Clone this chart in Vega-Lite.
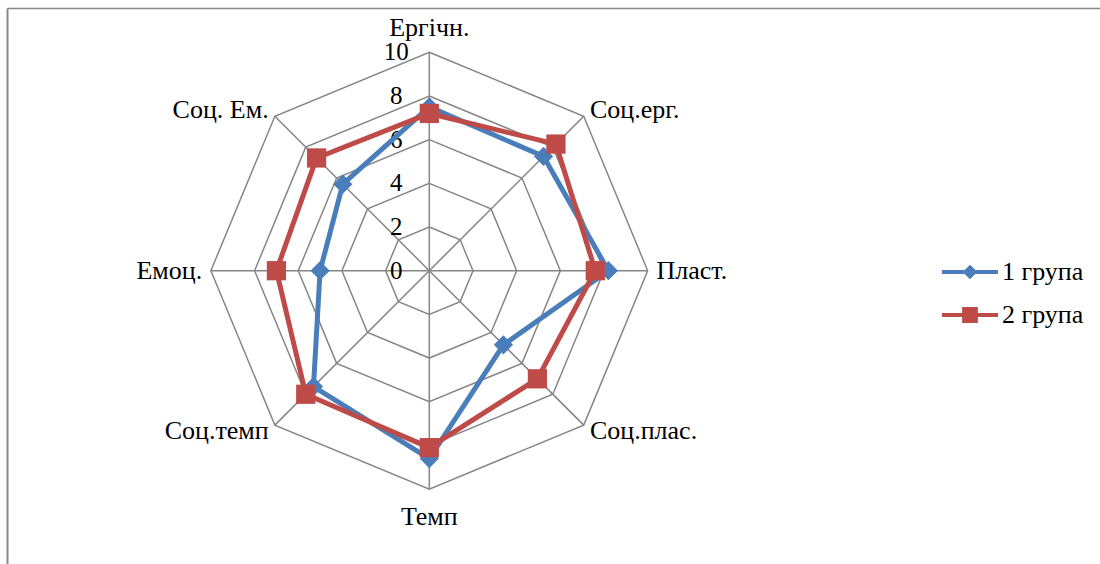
{
  "$schema": "https://vega.github.io/schema/vega-lite/v6.json",
  "width": 1093,
  "height": 556,
  "padding": {"left": 7, "top": 8, "right": 0, "bottom": 0},
  "autosize": {"type": "none"},
  "background": "white",
  "config": {
    "view": {"stroke": null},
    "font": "Liberation Serif",
    "text": {"font": "Liberation Serif", "fontSize": 26, "color": "black"}
  },
  "resolve": {"legend": {"color": "independent", "shape": "independent"}},
  "datasets": {
    "scores": [
      {"axis": "Ергічн.", "k": 0, "group": "1 група", "value": 7.5},
      {"axis": "Соц.ерг.", "k": 1, "group": "1 група", "value": 7.4},
      {"axis": "Пласт.", "k": 2, "group": "1 група", "value": 8.2},
      {"axis": "Соц.плас.", "k": 3, "group": "1 група", "value": 4.8},
      {"axis": "Темп", "k": 4, "group": "1 група", "value": 8.6},
      {"axis": "Соц.темп", "k": 5, "group": "1 група", "value": 7.5},
      {"axis": "Емоц.", "k": 6, "group": "1 група", "value": 5.0},
      {"axis": "Соц. Ем.", "k": 7, "group": "1 група", "value": 5.6},
      {"axis": "Ергічн.", "k": 0, "group": "2 група", "value": 7.2},
      {"axis": "Соц.ерг.", "k": 1, "group": "2 група", "value": 8.2},
      {"axis": "Пласт.", "k": 2, "group": "2 група", "value": 7.6},
      {"axis": "Соц.плас.", "k": 3, "group": "2 група", "value": 7.0},
      {"axis": "Темп", "k": 4, "group": "2 група", "value": 8.1},
      {"axis": "Соц.темп", "k": 5, "group": "2 група", "value": 8.0},
      {"axis": "Емоц.", "k": 6, "group": "2 група", "value": 7.0},
      {"axis": "Соц. Ем.", "k": 7, "group": "2 група", "value": 7.3}
    ],
    "axes": [
      {"axis": "Ергічн.", "k": 0, "rings": [2, 4, 6, 8, 10], "ends": [0, 10]},
      {"axis": "Соц.ерг.", "k": 1, "rings": [2, 4, 6, 8, 10], "ends": [0, 10]},
      {"axis": "Пласт.", "k": 2, "rings": [2, 4, 6, 8, 10], "ends": [0, 10]},
      {"axis": "Соц.плас.", "k": 3, "rings": [2, 4, 6, 8, 10], "ends": [0, 10]},
      {"axis": "Темп", "k": 4, "rings": [2, 4, 6, 8, 10], "ends": [0, 10]},
      {"axis": "Соц.темп", "k": 5, "rings": [2, 4, 6, 8, 10], "ends": [0, 10]},
      {"axis": "Емоц.", "k": 6, "rings": [2, 4, 6, 8, 10], "ends": [0, 10]},
      {"axis": "Соц. Ем.", "k": 7, "rings": [2, 4, 6, 8, 10], "ends": [0, 10]}
    ],
    "ticks": [
      {"t": "0", "v": 0}, {"t": "2", "v": 2}, {"t": "4", "v": 4},
      {"t": "6", "v": 6}, {"t": "8", "v": 8}, {"t": "10", "v": 10}
    ]
  },
  "layer": [
    {
      "data": {"name": "axes"},
      "transform": [
        {"flatten": ["rings"], "as": ["ring"]},
        {"calculate": "datum.ring * sin(datum.k * PI / 4)", "as": "x"},
        {"calculate": "datum.ring * cos(datum.k * PI / 4)", "as": "y"}
      ],
      "mark": {"type": "line", "interpolate": "linear-closed", "color": "#868686", "strokeWidth": 1.5},
      "encoding": {
        "x": {"field": "x", "type": "quantitative",
              "scale": {"domain": [-19.336, 30.71], "nice": false, "zero": false},
              "axis": {"orient": "top", "domain": true, "domainColor": "#888888", "domainWidth": 1.5, "ticks": false, "labels": false, "grid": false, "title": null}},
        "y": {"field": "y", "type": "quantitative",
              "scale": {"domain": [-13.429, 12.028], "nice": false, "zero": false},
              "axis": {"orient": "left", "domain": true, "domainColor": "#888888", "domainWidth": 2, "ticks": false, "labels": false, "grid": false, "title": null}},
        "detail": {"field": "ring", "type": "nominal"},
        "order": {"field": "k", "type": "quantitative"}
      }
    },
    {
      "data": {"name": "axes"},
      "transform": [
        {"flatten": ["ends"], "as": ["end"]},
        {"calculate": "datum.end * sin(datum.k * PI / 4)", "as": "x"},
        {"calculate": "datum.end * cos(datum.k * PI / 4)", "as": "y"}
      ],
      "mark": {"type": "line", "color": "#868686", "strokeWidth": 1.5},
      "encoding": {
        "x": {"field": "x", "type": "quantitative"},
        "y": {"field": "y", "type": "quantitative"},
        "detail": {"field": "k", "type": "nominal"},
        "order": {"field": "end", "type": "quantitative"}
      }
    },
    {
      "data": {"name": "ticks"},
      "transform": [{"calculate": "0", "as": "x"}],
      "mark": {"type": "text", "align": "center", "baseline": "middle", "dx": -33, "font": "Liberation Serif", "fontSize": 25},
      "encoding": {
        "x": {"field": "x", "type": "quantitative"},
        "y": {"field": "v", "type": "quantitative"},
        "text": {"field": "t"}
      }
    },
    {
      "data": {"name": "axes"},
      "transform": [
        {"filter": "datum.k == 0"},
        {"calculate": "10.4 * sin(datum.k * PI / 4)", "as": "x"},
        {"calculate": "10.4 * cos(datum.k * PI / 4)", "as": "y"}
      ],
      "mark": {"type": "text", "align": "center", "baseline": "middle", "dy": -16, "font": "Liberation Serif", "fontSize": 26},
      "encoding": {
        "x": {"field": "x", "type": "quantitative"},
        "y": {"field": "y", "type": "quantitative"},
        "text": {"field": "axis"}
      }
    },
    {
      "data": {"name": "axes"},
      "transform": [
        {"filter": "datum.k == 4"},
        {"calculate": "10.4 * sin(datum.k * PI / 4)", "as": "x"},
        {"calculate": "10.4 * cos(datum.k * PI / 4)", "as": "y"}
      ],
      "mark": {"type": "text", "align": "center", "baseline": "middle", "dy": 19, "font": "Liberation Serif", "fontSize": 26},
      "encoding": {
        "x": {"field": "x", "type": "quantitative"},
        "y": {"field": "y", "type": "quantitative"},
        "text": {"field": "axis"}
      }
    },
    {
      "data": {"name": "axes"},
      "transform": [
        {"filter": "datum.k >= 1 && datum.k <= 3"},
        {"calculate": "10.4 * sin(datum.k * PI / 4)", "as": "x"},
        {"calculate": "10.4 * cos(datum.k * PI / 4)", "as": "y"}
      ],
      "mark": {"type": "text", "align": "left", "baseline": "middle", "font": "Liberation Serif", "fontSize": 26},
      "encoding": {
        "x": {"field": "x", "type": "quantitative"},
        "y": {"field": "y", "type": "quantitative"},
        "text": {"field": "axis"}
      }
    },
    {
      "data": {"name": "axes"},
      "transform": [
        {"filter": "datum.k >= 5"},
        {"calculate": "10.4 * sin(datum.k * PI / 4)", "as": "x"},
        {"calculate": "10.4 * cos(datum.k * PI / 4)", "as": "y"}
      ],
      "mark": {"type": "text", "align": "right", "baseline": "middle", "font": "Liberation Serif", "fontSize": 26},
      "encoding": {
        "x": {"field": "x", "type": "quantitative"},
        "y": {"field": "y", "type": "quantitative"},
        "text": {"field": "axis"}
      }
    },
    {
      "data": {"name": "scores"},
      "transform": [
        {"calculate": "datum.value * sin(datum.k * PI / 4)", "as": "x"},
        {"calculate": "datum.value * cos(datum.k * PI / 4)", "as": "y"}
      ],
      "mark": {"type": "line", "interpolate": "linear-closed", "strokeWidth": 5, "strokeJoin": "round"},
      "encoding": {
        "x": {"field": "x", "type": "quantitative"},
        "y": {"field": "y", "type": "quantitative"},
        "color": {"field": "group", "type": "nominal",
                  "scale": {"domain": ["1 група", "2 група"], "range": ["#4A7EBB", "#BE4B48"]},
                  "legend": {
                    "orient": "none", "legendX": 933, "legendY": 234, "title": null,
                    "symbolSize": 3136, "symbolStrokeWidth": 4,
                    "labelFont": "Liberation Serif", "labelFontSize": 26, "labelColor": "black",
                    "labelOffset": 2, "rowPadding": -15,
                    "encode": {"symbols": {"update": {
                      "shape": {"signal": "datum.value === '1 група' ? 'M-1,0H1M0,-0.16L0.16,0L0,0.16L-0.16,0Z' : 'M-1,0H1M-0.21,-0.21H0.21V0.21H-0.21Z'"},
                      "stroke": {"scale": "color", "field": "value"},
                      "fill": {"scale": "color", "field": "value"},
                      "strokeWidth": {"value": 4},
                      "opacity": {"value": 1}
                    }}}
                  }},
        "order": {"field": "k", "type": "quantitative"}
      }
    },
    {
      "data": {"name": "scores"},
      "transform": [
        {"calculate": "datum.value * sin(datum.k * PI / 4)", "as": "x"},
        {"calculate": "datum.value * cos(datum.k * PI / 4)", "as": "y"}
      ],
      "mark": {"type": "point", "filled": true, "opacity": 1, "size": 370},
      "encoding": {
        "x": {"field": "x", "type": "quantitative"},
        "y": {"field": "y", "type": "quantitative"},
        "color": {"field": "group", "type": "nominal", "legend": null},
        "shape": {"field": "group", "type": "nominal",
                  "scale": {"domain": ["1 група", "2 група"], "range": ["diamond", "square"]},
                  "legend": null}
      }
    }
  ]
}
